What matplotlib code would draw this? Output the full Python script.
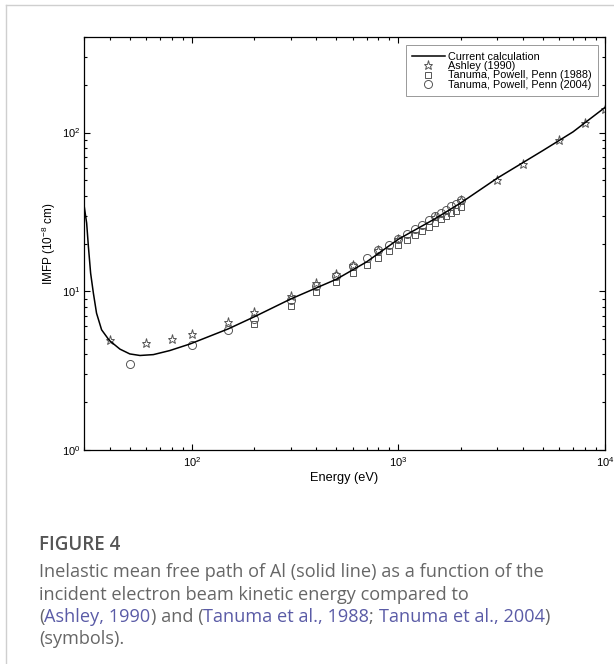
import matplotlib
matplotlib.use("Agg")
import matplotlib.pyplot as plt
from matplotlib.ticker import LogLocator, NullFormatter
from matplotlib.lines import Line2D

plt.rcParams['font.family'] = ['Liberation Sans', 'DejaVu Sans']
plt.rcParams['mathtext.fontset'] = 'custom'
plt.rcParams['mathtext.rm'] = 'Liberation Sans'
plt.rcParams['mathtext.it'] = 'Liberation Sans:italic'

# IMFP of Al, present calculation (eV, 1e-8 cm)
calc_e = [30, 30.9, 31.5, 32.3, 33.3, 34.5, 36.5, 39.8, 44.8, 50, 56, 65, 78, 98,
          150, 200, 300, 400, 500, 700, 1000, 1500, 2000, 3000, 5000, 7000, 10000]
calc_imfp = [35, 26.9, 19.2, 13.0, 9.75, 7.28, 5.72, 4.90, 4.32, 4.03, 3.94, 3.99, 4.23, 4.66,
             5.8, 6.9, 8.93, 10.5, 11.9, 15.3, 21.3, 28.6, 36.0, 51.5, 77, 101, 144]

# Ashley (1990)
ash_e = [40, 60, 80, 100, 150, 200, 300, 400, 500, 600, 800, 1000, 1500, 2000,
         3000, 4000, 6000, 8000, 10000]
ash_imfp = [4.94, 4.71, 4.99, 5.37, 6.42, 7.43, 9.4, 11.2, 12.8, 14.7, 18.1, 21.5, 29.2, 37.4,
            50.5, 63.7, 90, 115, 141]

# Tanuma, Powell, Penn (1988)
tpp88_e = [200, 300, 400, 500, 600, 700, 800, 900, 1000, 1100, 1200, 1300, 1400, 1500,
           1600, 1700, 1800, 1900, 2000]
tpp88_imfp = [6.21, 8.1, 9.83, 11.5, 13.1, 14.7, 16.3, 17.9, 19.5, 21.0, 22.5, 24.0, 25.5, 26.9,
              28.7, 29.6, 31.2, 32.2, 33.8]

# Tanuma, Powell, Penn (2004)
tpp04_e = [50, 100, 150, 200, 300, 400, 500, 600, 700, 800, 900, 1000, 1100, 1200, 1300,
           1400, 1500, 1600, 1700, 1800, 1900, 2000]
tpp04_imfp = [3.49, 4.58, 5.69, 6.73, 8.84, 10.8, 12.5, 14.5, 16.3, 18.1, 19.7, 21.3, 23.1, 24.7,
              26.3, 28.0, 29.6, 31.2, 32.7, 34.3, 35.6, 37.4]

W, H = 614, 664
fig = plt.figure(figsize=(W / 100, H / 100), dpi=100)

# card border (left and top edges only are on the page)
fig.add_artist(Line2D([6 / W, 6 / W], [0, 1 - 5 / H], color='#cfcfcf', lw=1.0))
fig.add_artist(Line2D([6 / W, 1], [1 - 5 / H, 1 - 5 / H], color='#cfcfcf', lw=1.0))

ax = fig.add_axes([84 / W, 214 / H, 521 / W, 413 / H])
mk = dict(ls='none', mfc='none', mec='#555555', mew=0.7)
ax.plot(calc_e, calc_imfp, color='k', lw=1.1, label='Current calculation', zorder=3)
ax.plot(ash_e, ash_imfp, marker='*', ms=6.5, label='Ashley (1990)', **mk)
ax.plot(tpp88_e, tpp88_imfp, marker='s', ms=4.3, label='Tanuma, Powell, Penn (1988)', **mk)
ax.plot(tpp04_e, tpp04_imfp, marker='o', ms=5.8, label='Tanuma, Powell, Penn (2004)', **mk)

ax.set_xscale('log')
ax.set_yscale('log')
ax.set_xlim(30, 1e4)
ax.set_ylim(1, 400)
for a in (ax.xaxis, ax.yaxis):
    a.set_major_locator(LogLocator(base=10))
    a.set_minor_locator(LogLocator(base=10, subs=range(2, 10)))
    a.set_minor_formatter(NullFormatter())
ax.tick_params(which='both', direction='in', top=True, right=True, labelsize=8, width=0.8)
ax.tick_params(which='major', length=4)
ax.tick_params(which='minor', length=2.2)
ax.tick_params(axis='x', pad=4)
ax.tick_params(axis='y', pad=2.5)
for s in ax.spines.values():
    s.set_linewidth(0.9)

ax.set_xlabel('Energy (eV)', fontsize=9.2, labelpad=2)
ax.set_ylabel('IMFP (10$^{-8}$ cm)', fontsize=8.5, labelpad=3)

leg = ax.legend(loc='upper right', bbox_to_anchor=(0.9866, 0.9806), borderaxespad=0,
                fontsize=7.8, frameon=True, fancybox=False, handlelength=3.0,
                handletextpad=0.3, labelspacing=-0.05, borderpad=0.6)
leg.get_frame().set_edgecolor('#808080')
leg.get_frame().set_linewidth(0.7)

# caption
grey = '#666666'
link = '#5a5ba6'
cfont = ['Open Sans', 'DejaVu Sans']
fig.text(39 / W, 1 - 545 / H, 'FIGURE 4', fontsize=13.5, color='#555555',
         family=cfont, fontweight='semibold', va='center')

lines = [
    [('Inelastic mean free path of Al (solid line) as a function of the', grey)],
    [('incident electron beam kinetic energy compared to', grey)],
    [('(', grey), ('Ashley, 1990', link), (') and (', grey), ('Tanuma et al., 1988', link),
     ('; ', grey), ('Tanuma et al., 2004', link), (')', grey)],
    [('(symbols).', grey)],
]
line_y = [572, 594.5, 617, 639.5]
renderer = fig.canvas.get_renderer()
for parts, yy in zip(lines, line_y):
    x = 39 / W
    for txt, col in parts:
        t = fig.text(x, 1 - yy / H, txt, fontsize=13.1, color=col, family=cfont, va='center')
        bb = t.get_window_extent(renderer)
        x += bb.width / W

fig.savefig('out.png', dpi=100)
